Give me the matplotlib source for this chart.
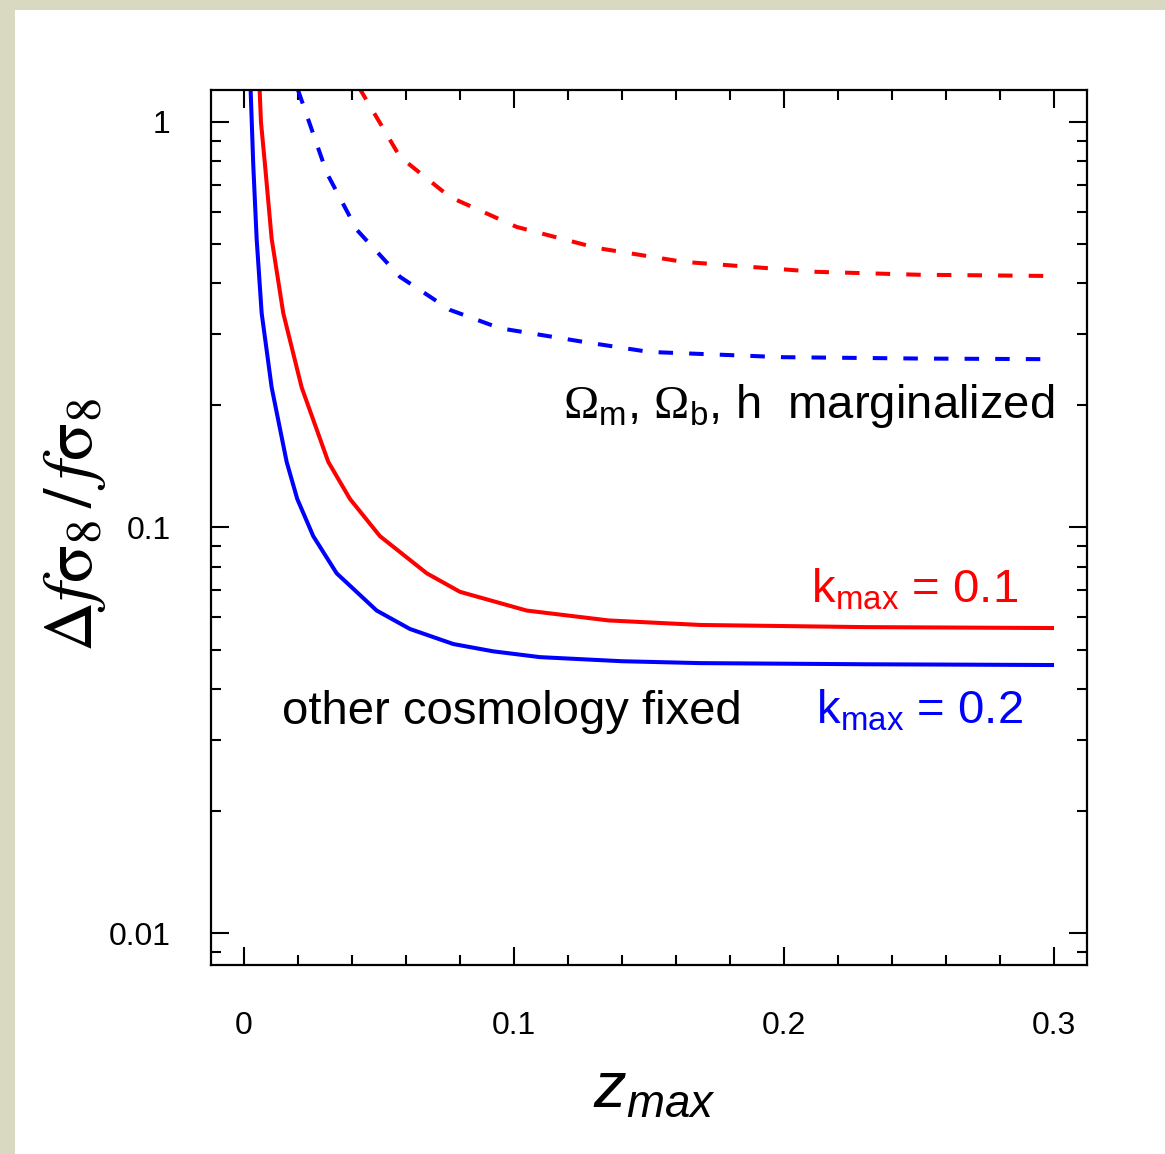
import numpy as np
import matplotlib.pyplot as plt
from matplotlib.patches import Rectangle
from matplotlib.ticker import FixedLocator, NullFormatter

plt.rcParams['font.family'] = ['Liberation Sans', 'DejaVu Sans']
plt.rcParams['mathtext.fontset'] = 'custom'
plt.rcParams['mathtext.rm'] = 'Liberation Serif'
plt.rcParams['mathtext.it'] = 'Liberation Sans:italic'
plt.rcParams['mathtext.sf'] = 'Liberation Sans'

# curves
z_fix_k01 = [0.0057, 0.0063, 0.00778, 0.01026, 0.01456, 0.02137, 0.03122, 0.03926, 0.05037, 0.0677,
             0.0800, 0.1047, 0.135, 0.169, 0.23, 0.30]
s_fix_k01 = [1.25, 1.0, 0.786, 0.5155, 0.3378, 0.2216, 0.1452, 0.1176, 0.0952, 0.0771,
             0.0694, 0.0624, 0.0590, 0.0575, 0.0568, 0.0565]

z_fix_k02 = [0.0021, 0.00248, 0.00344, 0.00470, 0.00656, 0.01026, 0.01581, 0.01974, 0.02567, 0.03433,
             0.04915, 0.06148, 0.07752, 0.09233, 0.1096, 0.140, 0.169, 0.23, 0.30]
s_fix_k02 = [1.30, 1.199, 0.786, 0.5155, 0.3378, 0.2216, 0.1452, 0.1176, 0.0952, 0.0771,
             0.0624, 0.0562, 0.0516, 0.0495, 0.0479, 0.0468, 0.0463, 0.0460, 0.0458]

z_marg_k01 = [0.0425, 0.0578, 0.0763, 0.101, 0.1307, 0.1626, 0.212, 0.25, 0.30]
s_marg_k01 = [1.22, 0.82, 0.653, 0.551, 0.489, 0.452, 0.427, 0.420, 0.417]

z_marg_k02 = [0.0200, 0.0307, 0.0418, 0.0578, 0.0763, 0.0948, 0.1256, 0.150, 0.1996, 0.25, 0.30]
s_marg_k02 = [1.20, 0.748, 0.542, 0.415, 0.344, 0.310, 0.287, 0.271, 0.263, 0.261, 0.260]

xticks = [0, 0.1, 0.2, 0.3]
xtick_labels = ['0', '0.1', '0.2', '0.3']
yticks = [0.01, 0.1, 1]
ytick_labels = ['0.01', '0.1', '1']

fig = plt.figure(figsize=(11.65, 11.54), dpi=100)
fig.patch.set_facecolor('#d9d9c1')
bg = Rectangle((15 / 1165, 0), 1 - 15 / 1165, 1 - 10 / 1154,
               transform=fig.transFigure, facecolor='white',
               edgecolor='none', zorder=-10)
fig.add_artist(bg)

ax = fig.add_axes([211 / 1165, 189 / 1154, 876 / 1165, 875 / 1154])
ax.set_yscale('log')
ax.set_zorder(1)

lw = 2.9
ax.plot(z_fix_k01, s_fix_k01, color='#ff0000', lw=lw, solid_capstyle='butt', solid_joinstyle='round')
ax.plot(z_fix_k02, s_fix_k02, color='#0000ff', lw=lw, solid_capstyle='butt', solid_joinstyle='round')
ax.plot(z_marg_k01, s_marg_k01, color='#ff0000', lw=lw, dashes=(3.6, 4.0), dash_capstyle='butt')
ax.plot(z_marg_k02, s_marg_k02, color='#0000ff', lw=lw, dashes=(3.6, 4.0), dash_capstyle='butt')

ax.set_xlim(-0.0122, 0.3122)
ax.set_ylim(0.00834, 1.199)

ax.set_xticks(xticks)
ax.set_xticklabels(xtick_labels)
ax.xaxis.set_minor_locator(FixedLocator(np.arange(0.02, 0.3, 0.02)))
ax.set_yticks(yticks)
ax.set_yticklabels(ytick_labels)
minors = [m * 10.0 ** e for e in (-3, -2, -1, 0) for m in range(2, 10)]
ax.yaxis.set_minor_locator(FixedLocator(minors))
ax.yaxis.set_minor_formatter(NullFormatter())

ax.tick_params(which='both', direction='in', top=True, right=True, width=1.5,
               labelsize=23, colors='black')
ax.tick_params(which='major', length=13)
ax.tick_params(axis='x', which='major', pad=33)
ax.tick_params(axis='y', which='major', pad=29)
ax.tick_params(which='minor', length=7)
for s in ax.spines.values():
    s.set_linewidth(1.6)

ax.set_xlabel(r'$z_{max}$', fontsize=47)
ax.xaxis.set_label_coords(0.506, -0.108)
fig.text(75 / 1165, 1 - 525 / 1154,
         r'$\Delta f\mathrm{\sigma}_8\,/\,f\mathrm{\sigma}_8$', rotation=90, fontsize=50,
         ha='center', va='center', math_fontfamily='stix')

tsize = 34
ax.text(0.3, 0.186, r'$\Omega_\mathsf{m}$, $\Omega_\mathsf{b}$, h  marginalized',
        fontsize=tsize, ha='right', va='baseline')
ax.text(0.2868, 0.0655, r'k$_\mathsf{max}$ = 0.1', color='#ff0000', fontsize=tsize,
        ha='right', va='baseline')
ax.text(0.2883, 0.0328, r'k$_\mathsf{max}$ = 0.2', color='#0000ff', fontsize=tsize,
        ha='right', va='baseline')
ax.text(0.0141, 0.0328, 'other cosmology fixed', color='black', fontsize=tsize,
        ha='left', va='baseline')

fig.savefig('out.png', dpi=100, facecolor=fig.get_facecolor())
